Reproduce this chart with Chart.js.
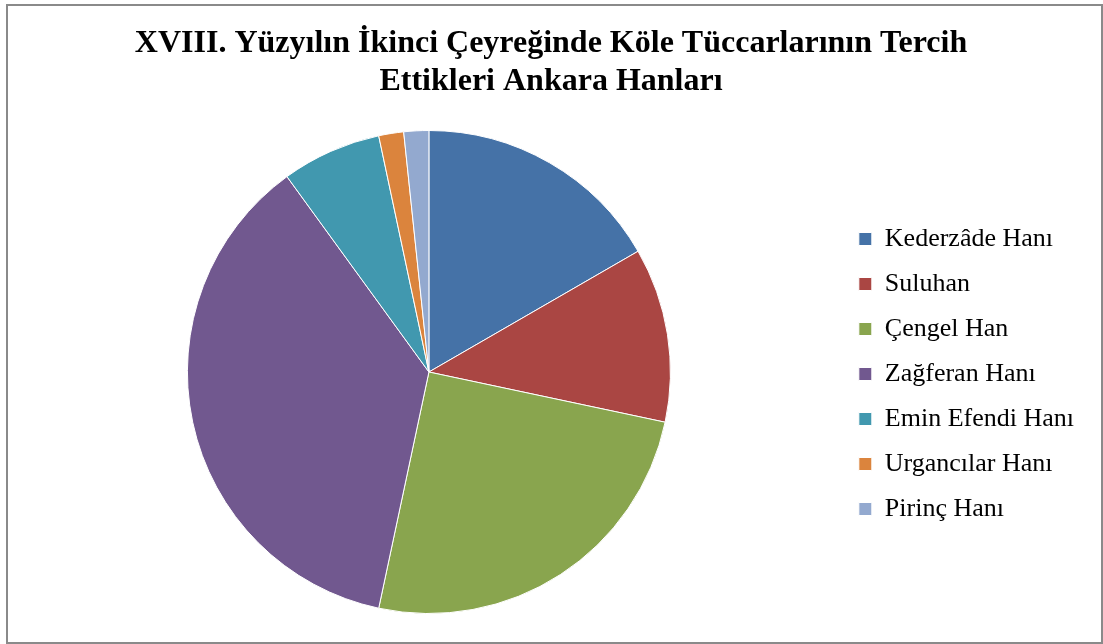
<!DOCTYPE html>
<html>
<head>
<meta charset="utf-8">
<script src="https://cdn.jsdelivr.net/npm/chart.js@4.4.0/dist/chart.umd.min.js"></script>
<style>
    body { margin: 0; background: #fff; }
    #frame {
        position: absolute; left: 6px; top: 4px; width: 1097px; height: 640px;
        border: 2px solid #8a8a8a; box-sizing: border-box;
    }
    #wrap { position: absolute; left: 0; top: 0; width: 1103px; height: 644px; }
</style>
</head>
<body>
<div id="frame"></div>
<div id="wrap"><canvas id="chart"></canvas></div>
<script>
    const titleLines = ["XVIII. Yüzyılın İkinci Çeyreğinde Köle Tüccarlarının Tercih", "Ettikleri Ankara Hanları"];
    const labels = ["Kederzâde Hanı", "Suluhan", "Çengel Han", "Zağferan Hanı", "Emin Efendi Hanı", "Urgancılar Hanı", "Pirinç Hanı"];
    const values = [10, 7, 15, 22, 4, 1, 1];
    const colors = ["#4572A7", "#AA4643", "#89A54E", "#71588F", "#4198AF", "#DB843D", "#93A9CF"];

    const serif = "'Times New Roman', 'Liberation Serif', serif";

    // nudge the legend column: down to the middle of the pie, a bit to the left
    const legendShift = {
        id: "legendShift",
        afterLayout(c) {
            c.legend.top += 67;
            c.legend.bottom += 67;
            c.legend.left -= 12;
            c.legend.right -= 12;
        },
    };

    const context = document.getElementById("chart").getContext("2d");
    const chart = new Chart(context, {
        type: "pie",
        data: {
            labels: labels,
            datasets: [
                {
                    data: values,
                    backgroundColor: colors,
                    borderColor: "#ffffff",
                    borderWidth: 1,
                },
            ],
        },
        options: {
            responsive: true,
            maintainAspectRatio: false,
            animation: false,
            layout: {
                padding: { left: 6, right: 7, top: 0, bottom: 30 },
            },
            plugins: {
                title: {
                    display: true,
                    text: titleLines,
                    color: "#000",
                    font: { family: serif, size: 32, weight: "bold", lineHeight: 1.1875 },
                    padding: { top: 25, bottom: 29 },
                },
                legend: {
                    position: "right",
                    labels: {
                        color: "#000",
                        font: { family: serif, size: 26 },
                        boxWidth: 13,
                        boxHeight: 13,
                        padding: 19,
                    },
                },
                tooltip: { enabled: false },
            },
        },
        plugins: [legendShift],
    });
</script>
</body>
</html>
